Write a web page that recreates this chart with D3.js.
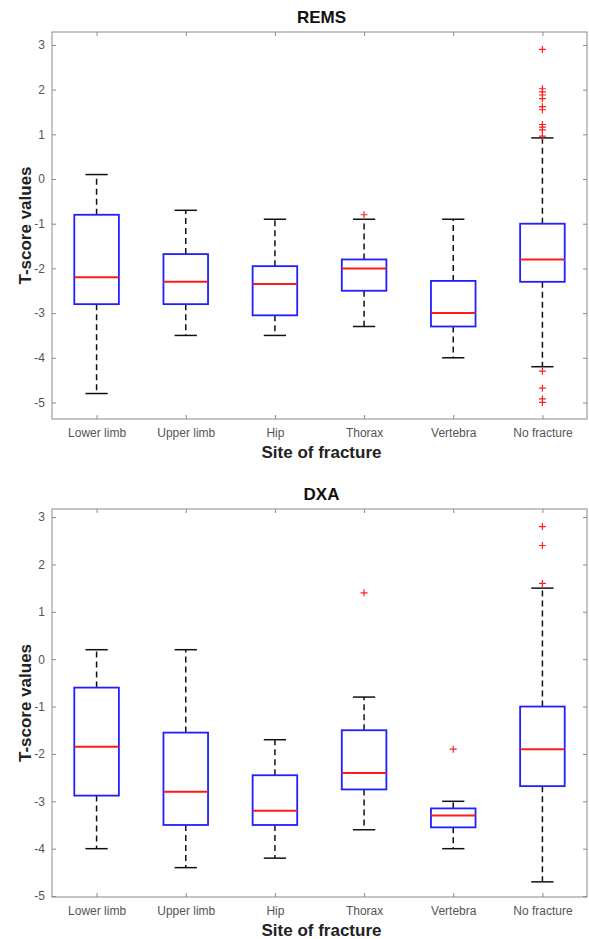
<!DOCTYPE html>
<html>
<head>
<meta charset="utf-8">
<script src="https://cdn.jsdelivr.net/npm/d3@7"></script>
<style>
  body { margin: 0; background: #fff; }
  svg { font-family: "Liberation Sans", Arial, sans-serif; }
</style>
</head>
<body>
<script>
// categories on the x axis
const sites = ['Lower limb', 'Upper limb', 'Hip', 'Thorax', 'Vertebra', 'No fracture'];
const yTicks = [3, 2, 1, 0, -1, -2, -3, -4, -5];

// REMS box stats
const remsLow  = [-4.8, -3.5, -3.5, -3.3, -4.0, -4.2];
const remsQ1   = [-2.8, -2.8, -3.05, -2.5, -3.3, -2.3];
const remsMed  = [-2.2, -2.3, -2.35, -2.0, -3.0, -1.8];
const remsQ3   = [-0.8, -1.68, -1.95, -1.8, -2.28, -1.0];
const remsHigh = [0.1, -0.7, -0.9, -0.9, -0.9, 0.92];
const remsOut  = [[], [], [], [-0.8], [],
  [2.9, 2.02, 1.95, 1.88, 1.8, 1.62, 1.55, 1.22, 1.16, 1.1, 0.96, -4.3, -4.68, -4.92, -5.0]];

// DXA box stats
const dxaLow  = [-4.0, -4.4, -4.2, -3.6, -4.0, -4.7];
const dxaQ1   = [-2.88, -3.5, -3.5, -2.75, -3.55, -2.68];
const dxaMed  = [-1.85, -2.8, -3.2, -2.4, -3.3, -1.9];
const dxaQ3   = [-0.6, -1.55, -2.45, -1.5, -3.15, -1.0];
const dxaHigh = [0.2, 0.2, -1.7, -0.8, -3.0, 1.5];
const dxaOut  = [[], [], [], [1.4], [-1.9], [2.8, 2.4, 1.6]];

const W = 589, H = 939;
const svg = d3.select('body').append('svg').attr('width', W).attr('height', H);

function panel(title, low, q1, med, q3, high, out, top, bottom, yDomain) {
  const left = 52, right = 587;
  const g = svg.append('g');

  const x = d3.scaleLinear().domain([0.5, sites.length + 0.5]).range([left, right]);
  const y = d3.scaleLinear().domain(yDomain).range([bottom, top]);
  const unit = x(1) - x(0);

  // frame
  g.append('rect')
    .attr('x', left).attr('y', top)
    .attr('width', right - left).attr('height', bottom - top)
    .attr('fill', 'none').attr('stroke', '#8a8a8a').attr('stroke-width', 1);

  // axes with inward ticks
  const pos = sites.map((d, i) => i + 1);
  const xAxis = g.append('g').attr('transform', 'translate(0,' + bottom + ')')
    .call(d3.axisBottom(x).tickValues(pos).tickFormat((d, i) => sites[i]).tickSizeInner(-4).tickSizeOuter(0).tickPadding(9));
  const xTop = g.append('g').attr('transform', 'translate(0,' + top + ')')
    .call(d3.axisTop(x).tickValues(pos).tickFormat('').tickSizeInner(-4).tickSizeOuter(0));
  const yAxis = g.append('g').attr('transform', 'translate(' + left + ',0)')
    .call(d3.axisLeft(y).tickValues(yTicks).tickFormat(d => String(d)).tickSizeInner(-4).tickSizeOuter(0).tickPadding(7));
  const yRight = g.append('g').attr('transform', 'translate(' + right + ',0)')
    .call(d3.axisRight(y).tickValues(yTicks).tickFormat('').tickSizeInner(-4).tickSizeOuter(0));

  [xAxis, xTop, yAxis, yRight].forEach(a => {
    a.select('.domain').remove();
    a.selectAll('line').attr('stroke', '#8a8a8a');
    a.selectAll('text').attr('fill', '#555').attr('font-size', 12);
  });

  // whiskers
  const boxes = g.selectAll('.box').data(pos).enter().append('g');
  boxes.append('line')
    .attr('x1', d => x(d)).attr('x2', d => x(d))
    .attr('y1', (d, i) => y(q3[i])).attr('y2', (d, i) => y(high[i]))
    .attr('stroke', '#111').attr('stroke-width', 1.5).attr('stroke-dasharray', '6,4');
  boxes.append('line')
    .attr('x1', d => x(d)).attr('x2', d => x(d))
    .attr('y1', (d, i) => y(q1[i])).attr('y2', (d, i) => y(low[i]))
    .attr('stroke', '#111').attr('stroke-width', 1.5).attr('stroke-dasharray', '6,4');
  // caps
  [high, low].forEach(arr => {
    boxes.append('line')
      .attr('x1', d => x(d - 0.125)).attr('x2', d => x(d + 0.125))
      .attr('y1', (d, i) => y(arr[i])).attr('y2', (d, i) => y(arr[i]))
      .attr('stroke', '#111').attr('stroke-width', 1.5);
  });
  // boxes
  boxes.append('rect')
    .attr('x', d => x(d - 0.25)).attr('width', unit * 0.5)
    .attr('y', (d, i) => y(q3[i])).attr('height', (d, i) => y(q1[i]) - y(q3[i]))
    .attr('fill', 'white').attr('stroke', '#1f1fff').attr('stroke-width', 1.8);
  boxes.append('line')
    .attr('x1', d => x(d - 0.25)).attr('x2', d => x(d + 0.25))
    .attr('y1', (d, i) => y(med[i])).attr('y2', (d, i) => y(med[i]))
    .attr('stroke', '#ff1a1a').attr('stroke-width', 2);

  // outliers as red plus signs
  const pts = [];
  out.forEach((vals, i) => vals.forEach(v => pts.push([i + 1, v])));
  g.selectAll('.out').data(pts).enter().append('path')
    .attr('d', d => {
      const cx = x(d[0]), cy = y(d[1]);
      return 'M' + (cx - 3.5) + ',' + cy + 'H' + (cx + 3.5) + 'M' + cx + ',' + (cy - 3.5) + 'V' + (cy + 3.5);
    })
    .attr('stroke', '#ff2020').attr('stroke-width', 1.2).attr('fill', 'none');

  // labels
  g.append('text').attr('x', (left + right) / 2 + 2).attr('y', top - 9)
    .attr('text-anchor', 'middle').attr('font-size', 17).attr('font-weight', 'bold')
    .attr('fill', '#111').text(title);
  g.append('text').attr('x', (left + right) / 2 + 2).attr('y', bottom + 39)
    .attr('text-anchor', 'middle').attr('font-size', 17).attr('font-weight', 'bold')
    .attr('fill', '#222').text('Site of fracture');
  g.append('text')
    .attr('transform', 'translate(31,' + ((top + bottom) / 2) + ') rotate(-90)')
    .attr('text-anchor', 'middle').attr('font-size', 17).attr('font-weight', 'bold')
    .attr('fill', '#222').text('T-score values');
}

panel('REMS', remsLow, remsQ1, remsMed, remsQ3, remsHigh, remsOut, 32, 419, [-5.37, 3.29]);
panel('DXA', dxaLow, dxaQ1, dxaMed, dxaQ3, dxaHigh, dxaOut, 509, 897, [-5.02, 3.17]);
</script>
</body>
</html>
